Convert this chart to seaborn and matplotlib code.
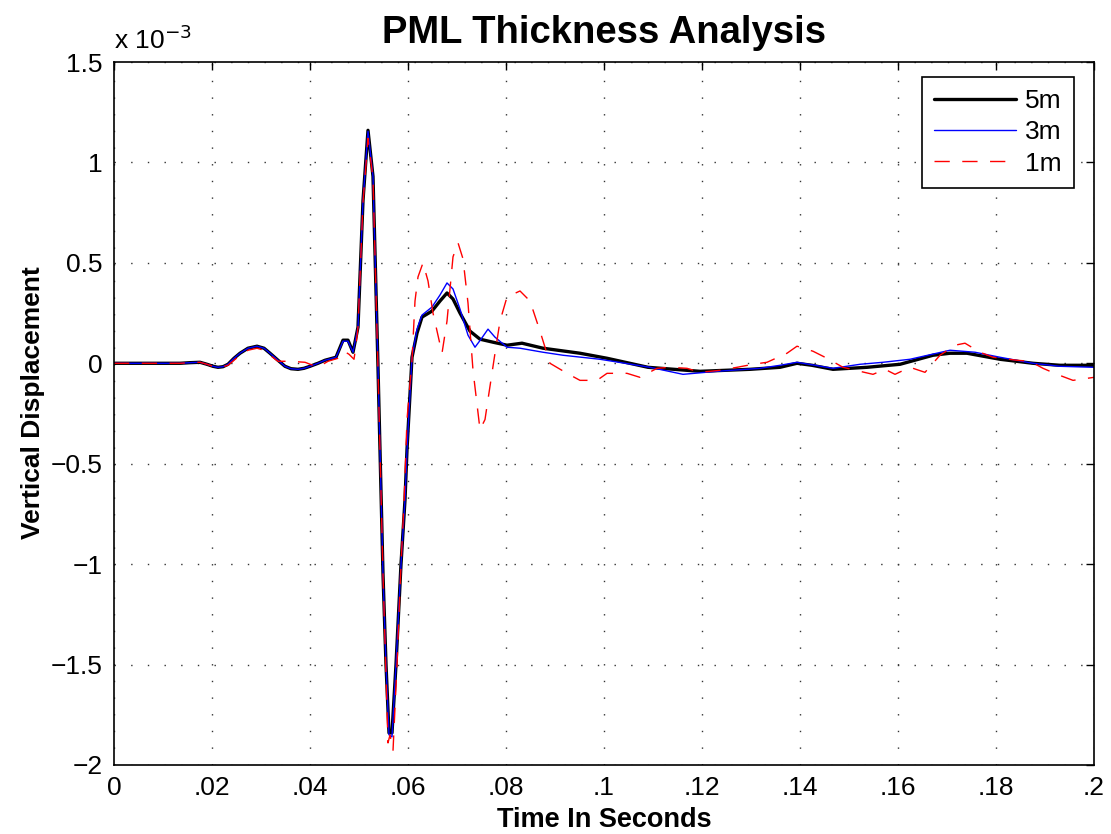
import numpy as np
import pandas as pd
import matplotlib
matplotlib.use("Agg")
import matplotlib.pyplot as plt
import seaborn as sns

# ---- data (time in seconds, displacement in units of 1e-3) ----
px_to_t = lambda x: (np.asarray(x, float) - 114.0) / 4900.0

t5_px = [114, 180, 190, 200, 207, 213, 218, 223, 228, 234, 240, 248, 257, 264, 270, 278, 285,
         291, 298, 304, 310, 318, 325, 336, 343, 348,
         353, 358, 363, 368, 373, 378, 383, 386, 389, 392, 396, 401, 405, 407, 412, 417, 422,
         432, 440, 447, 453, 460, 470, 480, 493, 507, 522, 543, 580, 607, 648, 700, 750, 780,
         797, 812, 833, 867, 900, 933, 950, 967, 1000, 1033, 1060, 1094]
v5 = [0, 0, 0.003, 0.005, -0.005, -0.015, -0.02, -0.017, -0.005, 0.025, 0.05, 0.075, 0.085,
      0.075, 0.05, 0.015, -0.015, -0.027, -0.03, -0.025, -0.015, 0.0,
      0.015, 0.03, 0.115, 0.115, 0.055, 0.18, 0.81, 1.16, 0.93, -0.02, -1.05, -1.5, -1.84,
      -1.84, -1.5, -1.0, -0.68, -0.43, 0.03, 0.15, 0.23, 0.26, 0.31, 0.35, 0.32, 0.25, 0.16,
      0.12, 0.105, 0.09, 0.10, 0.075, 0.05, 0.025, -0.02, -0.04, -0.03, -0.02, 0.0, -0.01,
      -0.03, -0.02, -0.005, 0.04, 0.05, 0.05, 0.02, 0.0, -0.01, -0.01]

t3_px = [114, 180, 190, 200, 207, 213, 218, 223, 228, 234, 240, 248, 257, 264, 270, 278, 285,
         291, 298, 304, 310, 318, 325, 336, 343, 348,
         353, 358, 363, 368, 373, 378, 383, 386, 389, 392, 396, 401, 405, 407, 412, 417, 422,
         432, 440, 447, 453, 460, 468, 475, 481, 488, 495, 507, 520, 543, 563, 600, 650, 683,
         717, 760, 780, 797, 815, 833, 860, 883, 910, 950, 975, 1000, 1033, 1060, 1094]
v3 = [0, 0, 0.003, 0.005, -0.005, -0.015, -0.02, -0.017, -0.005, 0.025, 0.05, 0.075, 0.085,
      0.075, 0.05, 0.015, -0.015, -0.027, -0.03, -0.025, -0.015, 0.0,
      0.015, 0.03, 0.11, 0.11, 0.055, 0.18, 0.81, 1.155, 0.93, -0.02, -1.05, -1.5, -1.85,
      -1.86, -1.5, -1.0, -0.68, -0.43, 0.03, 0.17, 0.24, 0.28, 0.34, 0.40, 0.37, 0.27, 0.14,
      0.08, 0.12, 0.17, 0.13, 0.08, 0.075, 0.055, 0.04, 0.02, -0.02, -0.055, -0.04, -0.025,
      -0.01, 0.005, -0.01, -0.025, -0.005, 0.005, 0.02, 0.065, 0.055, 0.03, 0.0, -0.015, -0.02]

t1_px = [114, 180, 190, 200, 207, 213, 218, 223, 228, 234, 240, 248, 257, 264, 270, 278, 290,
         305, 318, 328, 338, 344,
         349, 354, 356, 358, 363, 368, 373, 378, 383, 388, 390, 393, 397, 401, 404, 407, 412,
         415, 418, 423, 428, 433, 442, 447, 453, 458, 463, 468, 473, 480, 485, 488, 495, 500,
         507, 520, 530, 540, 550, 567, 580, 597, 607, 627, 640, 657, 670, 687, 700, 720, 737,
         753, 767, 787, 797, 813, 827, 843, 860, 873, 885, 895, 910, 925, 940, 955, 965, 980,
         993, 1017, 1030, 1043, 1057, 1073, 1094]
v1 = [0, 0, 0.003, 0.005, -0.005, -0.015, -0.02, -0.017, -0.01, 0.015, 0.04, 0.065, 0.075,
      0.065, 0.04, 0.01, 0.01, 0.005, -0.02,
      0.01, 0.025, 0.06, 0.045, 0.02, 0.09, 0.18, 0.8, 1.12, 0.92, -0.03, -1.05, -1.89, -1.85,
      -1.93, -1.5, -1.0, -0.7, -0.28, 0.015, 0.31, 0.43, 0.50, 0.41, 0.25, 0.05, 0.21, 0.53,
      0.60, 0.52, 0.30, -0.035, -0.33, -0.28, -0.18, 0.05, 0.21, 0.33, 0.36, 0.31, 0.16, 0.0,
      -0.05, -0.085, -0.085, -0.05, -0.05, -0.07, -0.025, -0.02, -0.025, -0.045, -0.035,
      -0.02, -0.005, 0.005, 0.05, 0.085, 0.06, 0.025, -0.02, -0.04, -0.055, -0.03, -0.055,
      -0.02, -0.045, 0.04, 0.09, 0.10, 0.055, 0.03, 0.015, 0.01, -0.025, -0.055, -0.085, -0.07]

series_labels = ["5m", "3m", "1m"]
x_ticks = [0, 0.02, 0.04, 0.06, 0.08, 0.1, 0.12, 0.14, 0.16, 0.18, 0.2]
x_tick_labels = ["0", ".02", ".04", ".06", ".08", ".1", ".12", ".14", ".16", ".18", ".2"]
y_ticks = [-2, -1.5, -1, -0.5, 0, 0.5, 1, 1.5]
y_tick_labels = ["\u22122", "\u22121.5", "\u22121", "\u22120.5", "0", "0.5", "1", "1.5"]

df5 = pd.DataFrame({"t": px_to_t(t5_px), "v": v5})
df3 = pd.DataFrame({"t": px_to_t(t3_px), "v": v3})
df1 = pd.DataFrame({"t": px_to_t(t1_px), "v": v1})

# ---- styling ----
sns.set_theme(style="white")
plt.rcParams["font.family"] = ["Liberation Sans", "DejaVu Sans"]
plt.rcParams["axes.unicode_minus"] = True
plt.rcParams["text.color"] = "black"
plt.rcParams["axes.labelcolor"] = "black"
plt.rcParams["xtick.color"] = "black"
plt.rcParams["ytick.color"] = "black"

fig = plt.figure(figsize=(11.11, 8.34), dpi=100)
ax = fig.add_axes([114 / 1111, 1 - 765 / 834, 980 / 1111, 703 / 834])

sns.lineplot(data=df5, x="t", y="v", ax=ax, color="black", linewidth=2.4,
             label=series_labels[0], sort=False, estimator=None)
sns.lineplot(data=df3, x="t", y="v", ax=ax, color="#0000ff", linewidth=1.0,
             label=series_labels[1], sort=False, estimator=None)
sns.lineplot(data=df1, x="t", y="v", ax=ax, color="#ff0000", linewidth=1.0,
             label=series_labels[2], sort=False, estimator=None)
ax.lines[2].set_dashes([11, 9])

ax.set_xlim(0, 0.2)
ax.set_ylim(-2, 1.5)
ax.set_xticks(x_ticks)
ax.set_xticklabels(x_tick_labels)
ax.set_yticks(y_ticks)
ax.set_yticklabels(y_tick_labels)

ax.tick_params(direction="in", length=6, width=1, top=True, right=True,
               labelsize=19, colors="black", pad=8)
for s in ax.spines.values():
    s.set_visible(True)
    s.set_color("black")
    s.set_linewidth(1.2)

ax.grid(True, color="#333333", linestyle=(0, (1, 11)), linewidth=1.0)
ax.set_axisbelow(True)

ax.set_title("PML Thickness Analysis", fontsize=27.5, fontweight="bold", pad=14,
             color="black")
ax.set_xlabel("Time In Seconds", fontsize=19.5, fontweight="bold", labelpad=5)
ax.set_ylabel("Vertical Displacement", fontsize=19, fontweight="bold", labelpad=4)
ax.yaxis.set_label_coords(-0.07, 0.515)

ax.text(0.0, 1.012, "x 10$^{\u22123}$", transform=ax.transAxes, fontsize=19,
        ha="left", va="bottom")

leg = ax.legend(loc="upper right", fontsize=19, frameon=True, fancybox=False,
                handlelength=3.1, handletextpad=0.35, borderpad=0.45, labelspacing=0.28,
                borderaxespad=0.0, bbox_to_anchor=(0.9795, 0.9787))
leg.get_frame().set_edgecolor("black")
leg.get_frame().set_linewidth(1.2)
leg.get_frame().set_alpha(1)

fig.savefig("out.png", dpi=100)
